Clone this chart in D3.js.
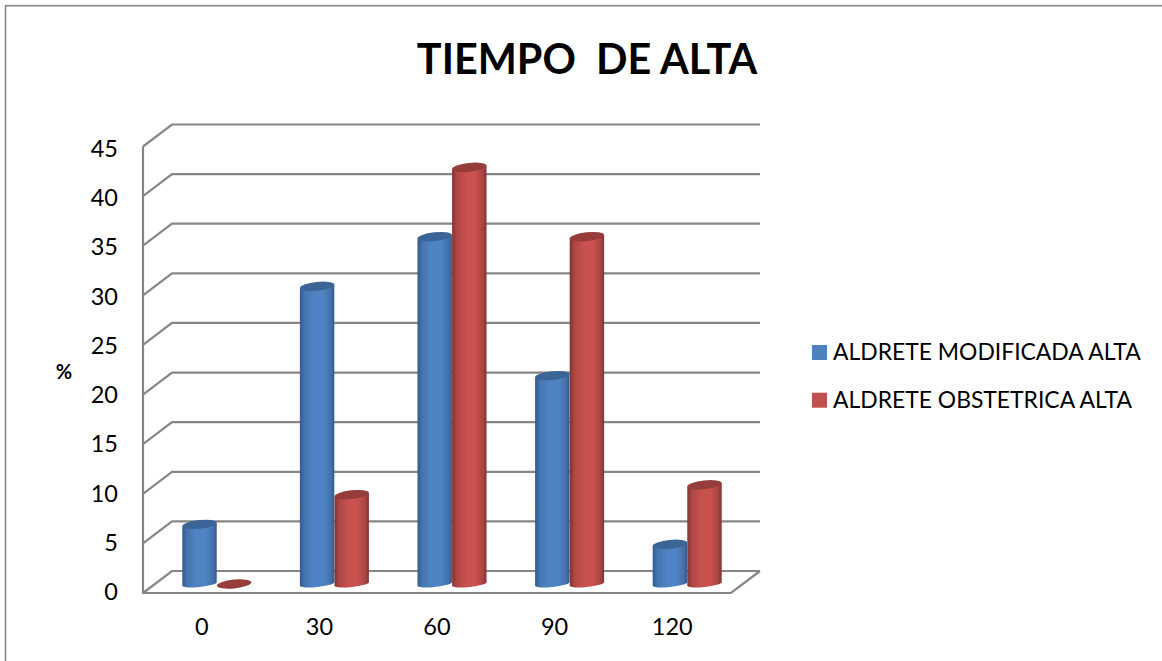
<!DOCTYPE html>
<html><head><meta charset="utf-8">
<script src="https://cdnjs.cloudflare.com/ajax/libs/d3/7.8.5/d3.min.js"></script>
<style>html,body{margin:0;padding:0;background:#fff}svg{display:block}text{font-family:Lato,"Open Sans",sans-serif;fill:#000}</style>
</head><body><svg id="c" width="1162" height="661"></svg>
<script>
const categories = ["0","30","60","90","120"];
const seriesNames = ["ALDRETE MODIFICADA ALTA","ALDRETE OBSTETRICA ALTA"];
const modificada = [6,30,35,21,4];
const obstetrica = [0,9,42,35,10];
const yTicks = [0,5,10,15,20,25,30,35,40,45];
const palette = [
  {base:"#4f81bd",light:"#4f84c4",dark:"#345a8a",top:"#3c6597"},
  {base:"#c0504d",light:"#c9524f",dark:"#7f3331",top:"#963c3a"}
];

const svg = d3.select("#c");
const defs = svg.append("defs");
palette.forEach((p,i)=>{
  const g = defs.append("linearGradient").attr("id","cyl"+i);
  [[0,p.dark],[0.14,d3.interpolateRgb(p.dark,p.light)(0.65)],[0.42,p.light],[0.68,p.light],[0.9,d3.interpolateRgb(p.dark,p.light)(0.55)],[1,p.dark]]
    .forEach(s=>g.append("stop").attr("offset",s[0]).attr("stop-color",s[1]));
});

// outer frame of the chart area
svg.append("rect").attr("x",5.5).attr("y",5.7).attr("width",1200).attr("height",700)
  .attr("fill","none").attr("stroke","#868686").attr("stroke-width",1.6);

// 3D box: front-plane scales plus a fixed depth offset
const x = d3.scaleBand().domain(categories).range([143,731]);
const y = d3.scaleLinear().domain([0,45]).range([593,146.5]);
const yLabel = d3.scaleLinear().domain([0,45]).range([600,157]);
const depth = {dx:29,dy:-22};
const barDepth = {dx:15,dy:-9};
const wall = svg.append("g").attr("fill","none").attr("stroke","#868686").attr("stroke-width",2.2);

// gridlines across the back wall, each with its slanted run on the side wall
wall.selectAll("path.grid").data(yTicks).join("path").attr("class","grid")
  .attr("d",v=>d3.line()([[x.range()[0],y(v)],[x.range()[0]+depth.dx,y(v)+depth.dy],[x.range()[1]+depth.dx,y(v)+depth.dy]]));
// front edge of the side wall and of the floor
wall.append("path").attr("d",d3.line()([[x.range()[0],y(45)],[x.range()[0],y(0)],[x.range()[1],y(0)],[x.range()[1]+depth.dx,y(0)+depth.dy]]));

// y tick labels
svg.append("g").selectAll("text").data(yTicks).join("text")
  .attr("x",118).attr("y",v=>yLabel(v)).attr("text-anchor","end")
  .attr("font-size",23.5).text(d=>d);

// x tick labels
svg.append("g").selectAll("text").data(categories).join("text")
  .attr("x",c=>x(c)+x.bandwidth()/2).attr("y",635).attr("text-anchor","middle")
  .attr("font-size",23.5).text(d=>d);

// cylinders, blue before red in each category; the caps are tilted ellipses
const barW = 34.6, ry = 4.4, bottomRy = 3, tilt = -6;
const rad = tilt*Math.PI/180;
const bars = svg.append("g");
categories.forEach((c,ci)=>{
  [modificada,obstetrica].forEach((vals,si)=>{
    const v = vals[ci];
    const cx = x(c)+x.bandwidth()/2+barDepth.dx+(si===0?-barW/2:barW/2);
    const yb = y(0)+barDepth.dy, yt = y(v)+barDepth.dy;
    const rx = barW/2;
    const ex = rx*Math.cos(rad), ey = rx*Math.sin(rad);
    if(v>0){
      bars.append("path").attr("fill",`url(#cyl${si})`)
        .attr("d",`M${cx-ex},${yt-ey}L${cx-ex},${yb-ey}A${rx},${bottomRy} ${tilt} 0 0 ${cx+ex},${yb+ey}L${cx+ex},${yt+ey}Z`);
    }
    bars.append("ellipse").attr("cx",cx).attr("cy",yt).attr("rx",rx).attr("ry",ry)
      .attr("fill",palette[si].top).attr("transform",`rotate(${tilt} ${cx} ${yt})`);
  });
});

// axis title
svg.append("text").attr("x",64).attr("y",379).attr("text-anchor","middle")
  .attr("font-size",20).attr("font-weight",700).text("%");

// chart title
svg.append("text").attr("x",587).attr("y",73.5).attr("text-anchor","middle")
  .attr("font-size",41.4).attr("font-weight",700).style("white-space","pre").text("TIEMPO  DE ALTA");

// legend
const leg = svg.append("g").selectAll("g").data(seriesNames).join("g")
  .attr("transform",(d,i)=>`translate(812,${345+i*47.7})`);
leg.append("rect").attr("width",15).attr("height",15).attr("fill",(d,i)=>palette[i].base);
leg.append("text").attr("x",21).attr("y",15).attr("font-size",22.9).text(d=>d);
</script></body></html>
